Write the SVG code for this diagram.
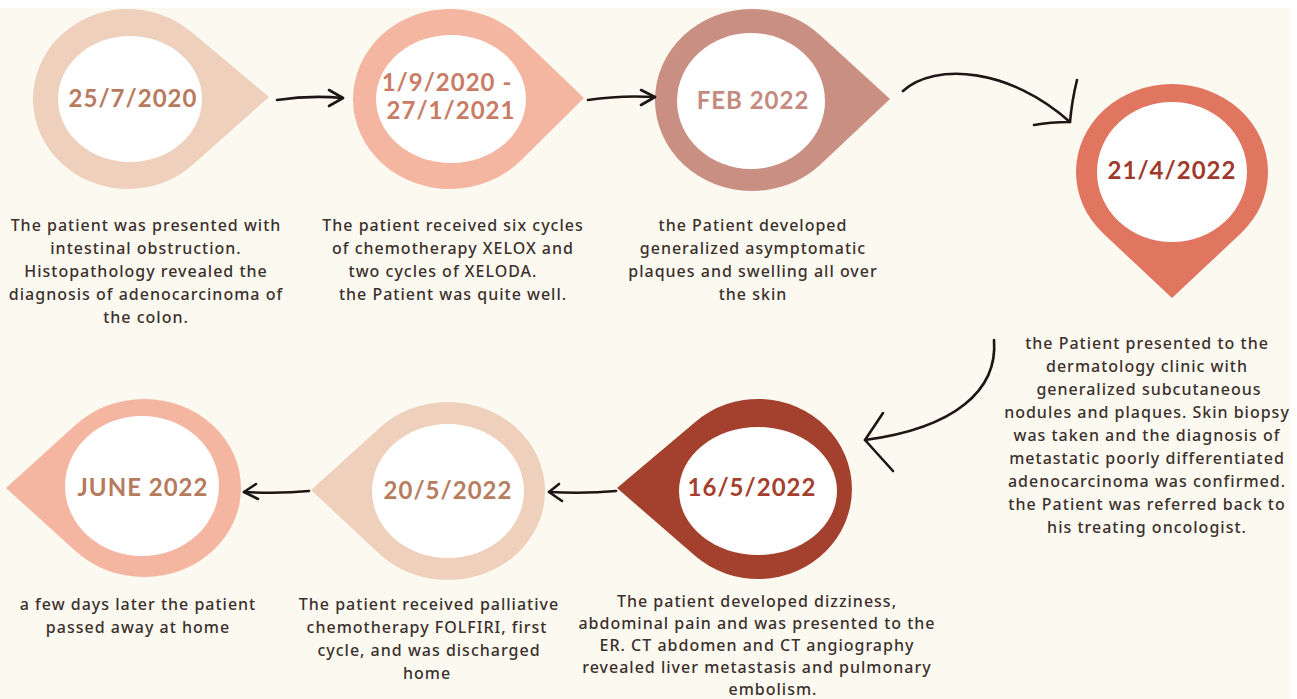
<svg xmlns="http://www.w3.org/2000/svg" width="1297" height="699" viewBox="0 0 1297 699">
<style>
.date{font-family:"Lato","Noto Sans",sans-serif;font-weight:700;font-size:24px;letter-spacing:1px;text-anchor:middle}
.desc{font-family:"Noto Sans","DejaVu Sans",sans-serif;font-size:16px;font-weight:500;letter-spacing:1px;fill:#3b302b;text-anchor:middle}
.inner{fill:#ffffff}
.arrow{fill:none;stroke:#1c1714;stroke-width:2.6;stroke-linecap:round;stroke-linejoin:round}
</style>
<rect x="0" y="0" width="1297" height="699" fill="#ffffff"/>
<rect x="0" y="8" width="1290" height="691" fill="#fcf9f1"/>

<g id="node1">
<path d="M 269 97 L 190.9 31.6 A 95 90 0 1 0 193 164.6 Z" fill="#efd0bd"/>
<ellipse class="inner" cx="130" cy="99" rx="72" ry="63"/>
<text class="date" x="133" y="107" fill="#b77a5e">25/7/2020</text>
<text class="desc" x="146"><tspan x="146" y="231">The patient was presented with</tspan><tspan x="146" y="254">intestinal obstruction.</tspan><tspan x="146" y="277">Histopathology revealed the</tspan><tspan x="146" y="300">diagnosis of adenocarcinoma of</tspan><tspan x="146" y="323">the colon.</tspan></text>
</g>

<g id="node2">
<path d="M 584 98 L 519.7 36.4 A 97 90 0 1 0 520.8 160.5 Z" fill="#f4b5a1"/>
<ellipse class="inner" cx="451" cy="99" rx="75" ry="64"/>
<text class="date" fill="#c97b65"><tspan x="447" y="91">1/9/2020 -</tspan><tspan x="451" y="119">27/1/2021</tspan></text>
<text class="desc"><tspan x="453" y="231">The patient received six cycles</tspan><tspan x="453" y="254">of chemotherapy XELOX and</tspan><tspan x="443" y="277">two cycles of XELODA.</tspan><tspan x="453" y="300">the Patient was quite well.</tspan></text>
</g>

<g id="node3">
<path d="M 890 99 L 820.2 35.3 A 97 91 0 1 0 820.2 164.7 Z" fill="#c98f82"/>
<ellipse class="inner" cx="751" cy="101" rx="74" ry="68"/>
<text class="date" x="753" y="109" fill="#c58a7e">FEB 2022</text>
<text class="desc"><tspan x="753" y="231">the Patient developed</tspan><tspan x="753" y="254">generalized asymptomatic</tspan><tspan x="753" y="277">plaques and swelling all over</tspan><tspan x="753" y="300">the skin</tspan></text>
</g>

<g id="node4">
<path d="M 1172 298 L 1240.7 233.5 A 96 88 0 1 0 1103.3 233.5 Z" fill="#e07560"/>
<ellipse class="inner" cx="1172" cy="172" rx="75" ry="70"/>
<text class="date" x="1172" y="179" fill="#9e3a2c">21/4/2022</text>
<text class="desc"><tspan x="1147" y="349">the Patient presented to the</tspan><tspan x="1147" y="372">dermatology clinic with</tspan><tspan x="1149" y="395">generalized subcutaneous</tspan><tspan x="1147" y="418">nodules and plaques. Skin biopsy</tspan><tspan x="1147" y="441">was taken and the diagnosis of</tspan><tspan x="1147" y="464">metastatic poorly differentiated</tspan><tspan x="1147" y="487">adenocarcinoma was confirmed.</tspan><tspan x="1147" y="510">the Patient was referred back to</tspan><tspan x="1147" y="533">his treating oncologist.</tspan></text>
</g>

<g id="node5">
<path d="M 617 488 L 695.3 421.9 A 94 90 0 1 1 695.3 556.1 Z" fill="#a3402e"/>
<ellipse class="inner" cx="758" cy="491" rx="79" ry="64"/>
<text class="date" x="752" y="496" fill="#a5402e">16/5/2022</text>
<text class="desc"><tspan x="757" y="607">The patient developed dizziness,</tspan><tspan x="757" y="629">abdominal pain and was presented to the</tspan><tspan x="757" y="651">ER. CT abdomen and CT angiography</tspan><tspan x="757" y="673">revealed liver metastasis and pulmonary</tspan><tspan x="773" y="695">embolism.</tspan></text>
</g>

<g id="node6">
<path d="M 311 490 L 379.3 428.2 A 97 89 0 1 1 379.3 553.8 Z" fill="#efd0bd"/>
<ellipse class="inner" cx="448" cy="491" rx="76" ry="67"/>
<text class="date" x="448" y="499" fill="#b67d5f">20/5/2022</text>
<text class="desc"><tspan x="429" y="610">The patient received palliative</tspan><tspan x="427" y="633">chemotherapy FOLFIRI, first</tspan><tspan x="429" y="656">cycle, and was discharged</tspan><tspan x="427" y="679">home</tspan></text>
</g>

<g id="node7">
<path d="M 6 488 L 75.8 424.7 A 97 89 0 1 1 75.8 551.3 Z" fill="#f4b5a1"/>
<ellipse class="inner" cx="142" cy="486" rx="77" ry="70"/>
<text class="date" x="143" y="496" fill="#b67a5d">JUNE 2022</text>
<text class="desc"><tspan x="138" y="610">a few days later the patient</tspan><tspan x="138" y="633">passed away at home</tspan></text>
</g>

<g id="connectors">
<path class="arrow" d="M 277 100 Q 310 95 343 98"/>
<path class="arrow" d="M 329 90 L 343 98 L 329 106"/>
<path class="arrow" d="M 588 100 Q 620 95 655 97"/>
<path class="arrow" d="M 641 90 L 655 97 L 641 105"/>
<path class="arrow" d="M 903 91 C 935 62 1010 68 1070 122"/>
<path class="arrow" d="M 1077 80 Q 1072 100 1070 122 Q 1050 122 1034 125"/>
<path class="arrow" d="M 994 340 C 998 390 955 428 865 440"/>
<path class="arrow" d="M 883 413 L 865 440 L 893 471"/>
<path class="arrow" d="M 616 491 Q 585 494 549 492"/>
<path class="arrow" d="M 559 484 L 549 492 L 562 501"/>
<path class="arrow" d="M 309 491 Q 280 494 244 492"/>
<path class="arrow" d="M 256 484 L 244 492 L 258 499"/>
</g>
</svg>
